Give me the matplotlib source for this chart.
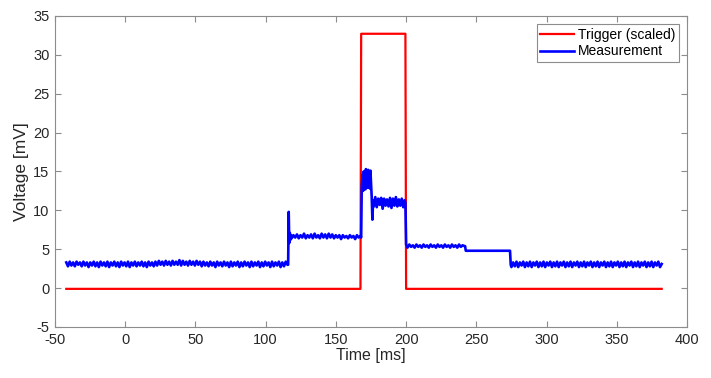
import numpy as np
import matplotlib
matplotlib.use("Agg")
import matplotlib.pyplot as plt

plt.rcParams['font.family'] = ['Liberation Sans', 'DejaVu Sans']
plt.rcParams['axes.unicode_minus'] = False

# trigger pulse (scaled)
trig_t = [-42, 167.5, 168, 199.5, 200, 382]
trig_v = [-0.1, -0.1, 32.7, 32.7, -0.1, -0.1]

base1 = [3.3, 2.8, 3.4, 2.9, 3.3, 2.8, 3.4, 3.0, 3.3, 2.8, 3.4, 2.9, 3.3,
         2.7, 3.3, 2.9, 3.4, 2.8, 3.3, 2.7, 3.4, 2.9, 3.3, 2.8, 3.4, 2.7,
         3.3, 2.9, 3.4, 2.8, 3.3, 2.7, 3.4, 2.9, 3.3, 2.8, 3.4, 2.7, 3.3,
         2.9, 3.4, 2.8, 3.3, 2.9, 3.4, 2.8, 3.3, 2.7, 3.4, 2.9, 3.3, 2.8,
         3.4, 2.9, 3.5, 3.0, 3.4, 2.9, 3.5, 3.0, 3.4, 2.9, 3.5, 3.0, 3.4,
         3.0, 3.6, 2.9, 3.5, 3.0, 3.4, 2.9, 3.5, 3.0, 3.4, 2.9, 3.5, 3.0,
         3.4, 2.8, 3.4, 2.9, 3.3, 2.8, 3.4, 2.9, 3.3, 2.7, 3.4, 2.9, 3.3,
         2.8, 3.4, 2.9, 3.3, 2.7, 3.4, 2.8, 3.3, 2.9, 3.4, 2.7, 3.3, 2.8,
         3.4, 2.9, 3.3, 2.7, 3.4, 2.8, 3.3, 2.9, 3.4, 2.7, 3.3, 2.8, 3.4,
         2.9, 3.3, 2.7, 3.4, 2.8, 3.3, 2.9, 3.4, 2.7, 3.3, 2.8, 3.4, 3.0]
jump1_t = [116, 116.4, 116.8, 117.2, 117.6, 118]
jump1_v = [3.0, 9.8, 5.8, 7.1, 6.2, 6.8]
level2 = [6.4, 6.8, 6.5, 6.9, 6.4, 6.8, 6.5, 7.0, 6.4, 6.8, 6.5, 6.9, 6.4, 7.0,
          6.5, 6.8, 6.4, 7.0, 6.5, 6.9, 6.4, 7.0, 6.5, 6.9, 6.4, 6.8, 6.5, 6.8,
          6.3, 6.8, 6.5, 6.7, 6.4, 6.8, 6.5, 6.7, 6.3, 6.8, 6.5, 6.7]
jump2_t = [168, 168.4]
jump2_v = [6.5, 13.0]
level3 = [14.6, 12.5, 15.0, 13.2, 14.8, 12.7, 15.3, 13.5, 14.4, 12.9,
          15.2, 13.4, 14.9, 12.8, 15.1, 13.6]
jump3_t = [175.5, 176, 176.5]
jump3_v = [11.7, 8.8, 11.3]
level4 = [10.5, 11.7, 10.4, 11.5, 10.7, 11.6, 10.2, 11.5, 10.6, 11.4, 10.5,
          11.6, 10.3, 11.5, 10.6, 11.7, 10.5, 11.4, 10.6, 11.5, 10.4, 11.3]
jump4_t = [199.5, 200]
jump4_v = [11.0, 5.6]
level5 = [5.2, 5.6, 5.3, 5.5, 5.2, 5.6, 5.3, 5.5, 5.2, 5.6, 5.3, 5.5, 5.2, 5.6,
          5.3, 5.5, 5.2, 5.6, 5.3, 5.5, 5.2, 5.6, 5.3, 5.5, 5.2, 5.6, 5.3, 5.5,
          5.2, 5.6, 5.3, 5.5, 5.4]
step_t = [242, 242.5, 274, 274.5]
step_v = [5.4, 4.8, 4.8, 3.0]
base2 = [2.7, 3.3, 2.8, 3.4, 2.7, 3.3, 2.9, 3.4, 2.7, 3.3, 2.8, 3.4, 2.7,
         3.3, 2.9, 3.4, 2.7, 3.3, 2.8, 3.4, 2.7, 3.3, 2.9, 3.4, 2.7, 3.3,
         2.8, 3.4, 2.7, 3.3, 2.9, 3.4, 2.7, 3.3, 2.8, 3.4, 2.7, 3.3, 2.9,
         3.4, 2.7, 3.3, 2.8, 3.4, 2.7, 3.3, 2.9, 3.4, 2.7, 3.3, 2.8, 3.4,
         2.7, 3.3, 2.9, 3.4, 2.7, 3.3, 2.8, 3.4, 2.7, 3.3, 2.9, 3.4, 2.7,
         3.3, 2.8, 3.4, 2.7, 3.3, 2.9, 3.4, 2.7, 3.3, 2.8, 3.4, 2.7, 3.3,
         2.9, 3.4, 2.7, 3.3, 2.8, 3.4, 2.7, 3.3, 2.9, 3.4, 2.7, 3.1]

meas_t = np.concatenate([
    np.linspace(-42, 115.5, len(base1)), jump1_t,
    np.linspace(118.5, 167.5, len(level2)), jump2_t,
    np.linspace(169, 175, len(level3)), jump3_t,
    np.linspace(177, 199, len(level4)), jump4_t,
    np.linspace(201, 241.5, len(level5)), step_t,
    np.linspace(275, 382, len(base2)),
])
meas_v = np.concatenate([base1, jump1_v, level2, jump2_v, level3, jump3_v,
                         level4, jump4_v, level5, step_v, base2])

fig = plt.figure(figsize=(7.11, 3.78), dpi=100)
ax = fig.add_axes([0.0774, 0.135, 0.8888, 0.823])

ax.plot(trig_t, trig_v, color='#ff0000', lw=1.6, label='Trigger (scaled)')
ax.plot(meas_t, meas_v, color='#0000ff', lw=1.9, label='Measurement')

ax.set_xlim(-50, 400)
ax.set_ylim(-5, 35)
ax.set_xticks(np.arange(-50, 401, 50))
ax.set_yticks(np.arange(-5, 36, 5))
ax.set_xlabel('Time [ms]', fontsize=11.5, color='#262626', labelpad=1)
ax.set_ylabel('Voltage [mV]', fontsize=12.5, color='#262626', labelpad=3)

for s in ax.spines.values():
    s.set_color('#8c8c8c')
    s.set_linewidth(0.8)
ax.tick_params(direction='in', top=True, right=True, length=4, width=0.8,
               color='#8c8c8c', labelcolor='#262626', labelsize=10.5, pad=4)

leg = ax.legend(loc='upper right', fontsize=10, fancybox=False, framealpha=1,
                edgecolor='#8c8c8c', handlelength=2.4, handletextpad=0.3,
                borderpad=0.25, labelspacing=0.2, borderaxespad=0.6)
leg.get_frame().set_linewidth(0.8)

fig.savefig('out.png', dpi=100)
